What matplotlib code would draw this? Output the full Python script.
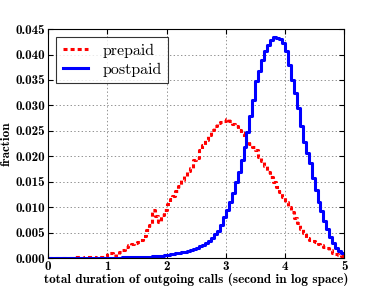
import matplotlib
matplotlib.use('Agg')
import matplotlib.pyplot as plt
import numpy as np

# bin edges (log10 seconds), 100 bins of 0.05
edges = np.linspace(0, 5, 101)

# fraction of prepaid users per bin
prepaid = [
    0, 0, 0, 0, 0, 0.0001, 0.0001, 0, 0.0001, 0.0002,
    0.0002, 0.0001, 0.0002, 0.0002, 0.0003, 0.0002, 0.0001, 0.0002, 0.0002, 0.0004,
    0.0010, 0.0009, 0.0004, 0.0008, 0.0012, 0.0015, 0.0022, 0.0025, 0.0027, 0.0029,
    0.0032, 0.0035, 0.0043, 0.0055, 0.0065, 0.0094, 0.0082, 0.0070, 0.0085, 0.0095,
    0.0107, 0.0116, 0.0122, 0.0132, 0.0141, 0.0153, 0.0161, 0.0172, 0.0177, 0.0193,
    0.0197, 0.0212, 0.0222, 0.0232, 0.0242, 0.0252, 0.0259, 0.0265, 0.0267, 0.0269,
    0.0273, 0.0270, 0.0264, 0.0259, 0.0252, 0.0245, 0.0238, 0.0230, 0.0225, 0.0218,
    0.0212, 0.0199, 0.0190, 0.0180, 0.0170, 0.0159, 0.0149, 0.0140, 0.0130, 0.0120,
    0.0111, 0.0101, 0.0091, 0.0078, 0.0068, 0.0058, 0.0049, 0.0039, 0.0036, 0.0034,
    0.0031, 0.0028, 0.0025, 0.0022, 0.0019, 0.0015, 0.0010, 0.0008, 0.0006, 0.0004,
]

# fraction of postpaid users per bin
postpaid = [
    0, 0, 0, 0, 0, 0, 0, 0, 0, 0,
    0, 0, 0, 0, 0, 0.0001, 0, 0.0001, 0.0001, 0.0001,
    0.0001, 0.0001, 0.0001, 0.0001, 0.0001, 0.0002, 0.0002, 0.0002, 0.0002, 0.0002,
    0.0002, 0.0002, 0.0003, 0.0003, 0.0003, 0.0004, 0.0004, 0.0005, 0.0005, 0.0006,
    0.0006, 0.0007, 0.0008, 0.0009, 0.0010, 0.0011, 0.0012, 0.0013, 0.0015, 0.0017,
    0.0020, 0.0023, 0.0026, 0.0030, 0.0034, 0.0040, 0.0047, 0.0054, 0.0065, 0.0081,
    0.0094, 0.0111, 0.0127, 0.0150, 0.0170, 0.0193, 0.0219, 0.0247, 0.0280, 0.0311,
    0.0347, 0.0367, 0.0390, 0.0406, 0.0419, 0.0429, 0.0434, 0.0433, 0.0431, 0.0422,
    0.0406, 0.0379, 0.0350, 0.0324, 0.0295, 0.0260, 0.0229, 0.0206, 0.0186, 0.0157,
    0.0134, 0.0111, 0.0093, 0.0073, 0.0058, 0.0042, 0.0029, 0.0019, 0.0013, 0.0010,
]

plt.rcParams['font.family'] = 'cmb10'
plt.rcParams['axes.unicode_minus'] = False
plt.rcParams['lines.scale_dashes'] = False

fig = plt.figure(figsize=(3.82, 2.88), dpi=100)
ax = fig.add_axes([0.126, 0.104, 0.775, 0.795])

ax.step(edges, prepaid + [prepaid[-1]], where='post', color='red',
        lw=2.2, dashes=(2.9, 2.2), label='prepaid')
ax.step(edges, postpaid + [postpaid[-1]], where='post', color='blue',
        lw=2.2, label='postpaid')

ax.set_xlim(0, 5)
ax.set_ylim(0, 0.045)
ax.set_yticks(np.arange(0, 0.0451, 0.005))
ax.grid(True, color='gray', linestyle=':', linewidth=0.6)
ax.tick_params(direction='in', top=True, right=True, labelsize=9.5, pad=2)
ax.set_xlabel('total duration of outgoing calls (second in log space)', fontsize=9.5, labelpad=0)
ax.set_ylabel('fraction', fontsize=9.5, labelpad=2)

leg = ax.legend(loc='upper left', prop={'family': 'cmr10', 'size': 11.5},
                fancybox=False, handlelength=1.6, borderaxespad=0.5,
                handletextpad=0.9, labelspacing=0.3)
leg.get_frame().set_edgecolor('black')
leg.get_frame().set_linewidth(0.8)

fig.savefig('out.png', dpi=100)
